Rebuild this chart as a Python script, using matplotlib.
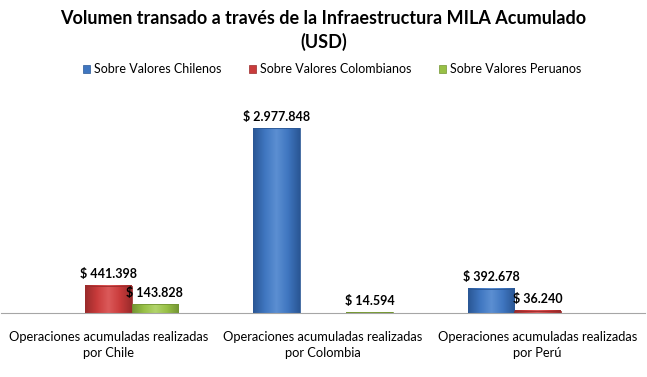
import numpy as np
import matplotlib
matplotlib.use("Agg")
import matplotlib.pyplot as plt
from matplotlib.colors import LinearSegmentedColormap

plt.rcParams['font.family'] = ['Lato', 'DejaVu Sans']

categories = ["Operaciones acumuladas realizadas\npor Chile",
              "Operaciones acumuladas realizadas\npor Colombia",
              "Operaciones acumuladas realizadas\npor Perú"]
series = ["Sobre Valores Chilenos", "Sobre Valores Colombianos", "Sobre Valores Peruanos"]
chilenos = [0, 2977848, 392678]
colombianos = [441398, 0, 36240]
peruanos = [143828, 14594, 0]

colors = ["#3f76c0", "#c93b3b", "#98c046"]
dark = ["#2a5795", "#9a2b2b", "#739533"]
light = ["#5c8fd2", "#db5a5a", "#b2d46c"]

fig = plt.figure(figsize=(6.47, 3.77), dpi=100)
ax = fig.add_axes([1 / 647, 64 / 377, 644 / 647, 217 / 377])

x = np.arange(len(categories))
w = 0.217
values = [chilenos, colombianos, peruanos]

def fmt(v):
    return "$ " + "{:,}".format(v).replace(",", ".")

for i, vals in enumerate(values):
    pos = x + (i - 1) * w
    cmap = LinearSegmentedColormap.from_list("g%d" % i, [dark[i], colors[i], light[i], colors[i], dark[i]])
    for p, v in zip(pos, vals):
        if v <= 0:
            continue
        grad = np.linspace(0, 1, 64).reshape(1, -1)
        ax.imshow(grad, cmap=cmap, aspect="auto", extent=[p - w / 2, p + w / 2, 0, v], zorder=2)
        ax.add_patch(plt.Rectangle((p - w / 2, 0), w, v, fill=False, edgecolor=dark[i], lw=0.6, zorder=3))
        ax.annotate(fmt(v), (p, v), xytext=(0, 4), textcoords="offset points",
                    ha="center", va="bottom", fontsize=9, fontweight="bold", zorder=4)
    ax.bar(pos, [0] * len(pos), w, color=colors[i], label=series[i])

ax.set_xlim(-0.5, 2.5)
ax.set_ylim(0, 3500000)
ax.set_xticks(x)
ax.set_xticklabels(categories, fontsize=9.3, linespacing=1.35)
ax.tick_params(axis="x", length=0, pad=13)
ax.set_yticks([])
for s in ["top", "left", "right"]:
    ax.spines[s].set_visible(False)
ax.spines["bottom"].set_color("#a6a6a6")

handles = [plt.Rectangle((0, 0), 1, 1, facecolor=colors[i], edgecolor=dark[i], lw=0.5) for i in range(3)]
fig.legend(handles, series, loc="center", bbox_to_anchor=(332 / 647, 1 - 69 / 377),
           ncol=3, frameon=False, fontsize=9, handlelength=0.6, handleheight=0.6,
           handletextpad=0.3, columnspacing=2.2)

fig.text(0.5, 1 - 18 / 377, "Volumen transado a través de la Infraestructura MILA Acumulado",
         ha="center", va="center", fontsize=13, fontweight="bold")
fig.text(0.5, 1 - 42 / 377, "(USD)", ha="center", va="center", fontsize=13, fontweight="bold")

fig.savefig("out.png", dpi=100)
